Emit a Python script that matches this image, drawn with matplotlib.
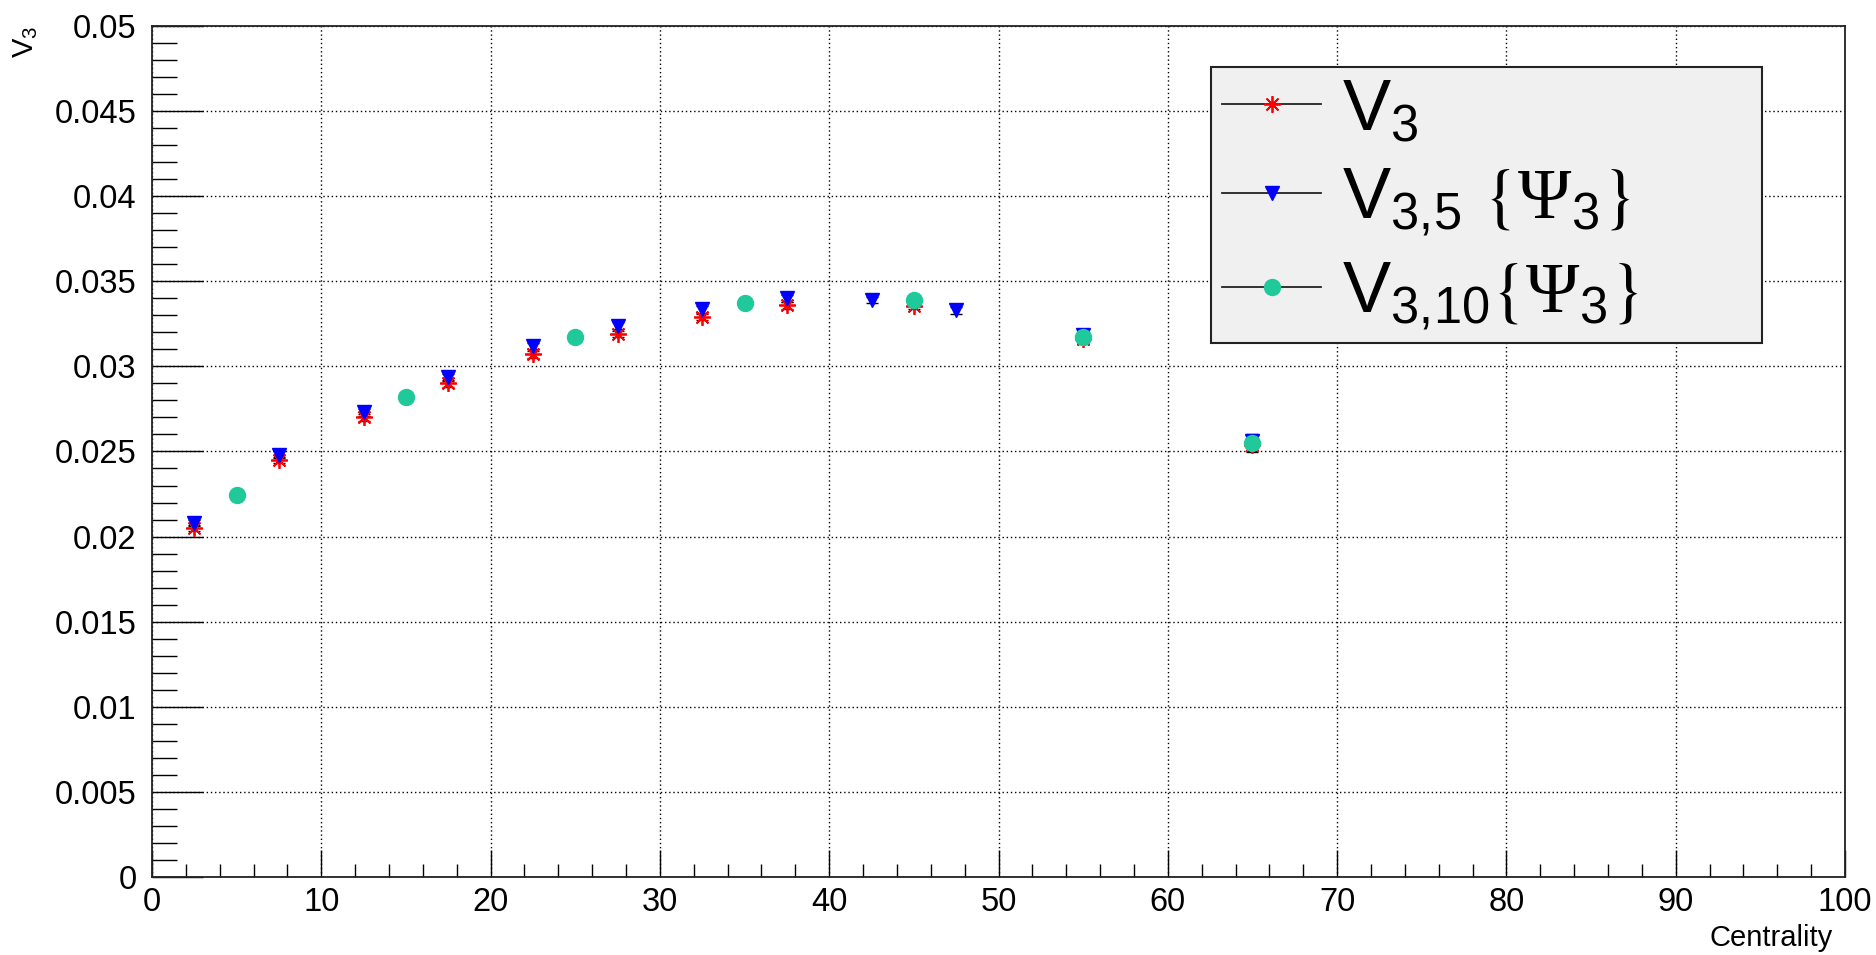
import numpy as np
import matplotlib
matplotlib.use('Agg')
import matplotlib.pyplot as plt
from matplotlib.lines import Line2D
from matplotlib.ticker import MultipleLocator

plt.rcParams['font.family'] = ['Liberation Sans', 'DejaVu Sans']
plt.rcParams['mathtext.fontset'] = 'custom'
plt.rcParams['mathtext.rm'] = 'Liberation Sans'
plt.rcParams['mathtext.it'] = 'Liberation Sans'
plt.rcParams['mathtext.sf'] = 'Liberation Serif'
plt.rcParams['mathtext.fallback'] = 'stix'

# V3 (all centrality bins)
x_v3 = [2.5, 7.5, 12.5, 17.5, 22.5, 27.5, 32.5, 37.5, 45, 55, 65]
y_v3 = [0.0205, 0.0245, 0.0270, 0.0290, 0.0307, 0.0319, 0.0329, 0.0336, 0.03355, 0.0316, 0.0254]
e_v3 = [0.0002, 0.0002, 0.0002, 0.0002, 0.0002, 0.0002, 0.0002, 0.0002, 0.0002, 0.0003, 0.0004]

# V3,5 {Psi3}
x_v35 = [2.5, 7.5, 12.5, 17.5, 22.5, 27.5, 32.5, 37.5, 42.5, 47.5, 55, 65]
y_v35 = [0.0208, 0.0248, 0.0273, 0.02935, 0.0312, 0.0324, 0.03335, 0.0340, 0.0339, 0.0333, 0.03185, 0.0256]
e_v35 = [0.0002, 0.0002, 0.0002, 0.0002, 0.0002, 0.0002, 0.0002, 0.0002, 0.0002, 0.0002, 0.0003, 0.0004]

# V3,10 {Psi3}
x_v310 = [5, 15, 25, 35, 45, 55, 65]
y_v310 = [0.02245, 0.0282, 0.0317, 0.0337, 0.0339, 0.0317, 0.02547]
e_v310 = [0.0002, 0.0002, 0.0002, 0.0002, 0.0002, 0.0003, 0.0005]

yticks = [0, 0.005, 0.01, 0.015, 0.02, 0.025, 0.03, 0.035, 0.04, 0.045, 0.05]
yticklabels = ['0', '0.005', '0.01', '0.015', '0.02', '0.025', '0.03', '0.035', '0.04', '0.045', '0.05']

lab_v3 = r'$\mathrm{V}_{3}$'
lab_v35 = r'$\mathrm{V}_{3{,}5}\ \left\{\mathsf{\Psi}_{3}\right\}$'
lab_v310 = r'$\mathrm{V}_{3{,}10}\left\{\mathsf{\Psi}_{3}\right\}$'

green = '#1fc99a'
star = (8, 2, 0)

fig = plt.figure(figsize=(18.76, 9.55), dpi=100)
ax = fig.add_axes([0.0810, 0.0817, 0.9025, 0.8911])

ax.errorbar(x_v3, y_v3, yerr=e_v3, fmt='none', ecolor='k', elinewidth=1, capsize=4, zorder=2)
ax.plot(x_v3, y_v3, ls='none', marker=star, ms=12, mec='red', mew=1.3, zorder=3)
ax.errorbar(x_v35, y_v35, yerr=e_v35, fmt='none', ecolor='k', elinewidth=1, capsize=4, zorder=2)
ax.plot(x_v35, y_v35, ls='none', marker='v', ms=10, mfc='blue', mec='blue', zorder=4)
ax.errorbar(x_v310, y_v310, yerr=e_v310, fmt='none', ecolor='k', elinewidth=1, capsize=4, zorder=2)
ax.plot(x_v310, y_v310, ls='none', marker='o', ms=11.5, mfc=green, mec=green, zorder=5)

ax.set_xlim(0, 100)
ax.set_ylim(0, 0.05)
ax.xaxis.set_major_locator(MultipleLocator(10))
ax.xaxis.set_minor_locator(MultipleLocator(2))
ax.set_yticks(yticks)
ax.set_yticklabels(yticklabels)
ax.yaxis.set_minor_locator(MultipleLocator(0.001))

ax.tick_params(axis='y', which='major', direction='in', length=36.5, width=1, labelsize=23.5, pad=11)
ax.tick_params(axis='y', which='minor', direction='in', length=18, width=1)
ax.tick_params(axis='x', which='major', direction='in', length=19.5, width=1, labelsize=23.5, pad=7)
ax.tick_params(axis='x', which='minor', direction='in', length=9.5, width=1)
ax.tick_params(top=False, right=False, which='both')

ax.grid(True, which='major', color='k', ls=(0, (1, 2)), lw=1.0)
ax.set_axisbelow(True)
for s in ax.spines.values():
    s.set_linewidth(1.3)
    s.set_color('#222222')

ax.set_xlabel('Centrality', fontsize=21, loc='right')
ax.xaxis.set_label_coords(0.993, -0.055)
ax.set_ylabel(lab_v3, fontsize=21, loc='top')
ax.yaxis.set_label_coords(-0.066, 1.0)

handles = [
    Line2D([], [], color='#222222', lw=1.3, marker=star, ms=12, mec='red', mew=1.3),
    Line2D([], [], color='#222222', lw=1.3, marker='v', ms=10, mfc='blue', mec='blue'),
    Line2D([], [], color='#222222', lw=1.3, marker='o', ms=11.5, mfc=green, mec=green),
]
leg = ax.legend(handles, [lab_v3, lab_v35, lab_v310], loc='upper left',
                bbox_to_anchor=(0.6255, 0.625, 0.3255, 0.327), mode='expand',
                fontsize=52, frameon=True, fancybox=False, framealpha=1,
                facecolor='#f0f0f0', edgecolor='#222222', handlelength=1.38,
                handletextpad=0.28, labelspacing=0.3, borderpad=0.15, borderaxespad=0)
leg.get_frame().set_linewidth(1.5)

fig.savefig('out.png', dpi=100)
